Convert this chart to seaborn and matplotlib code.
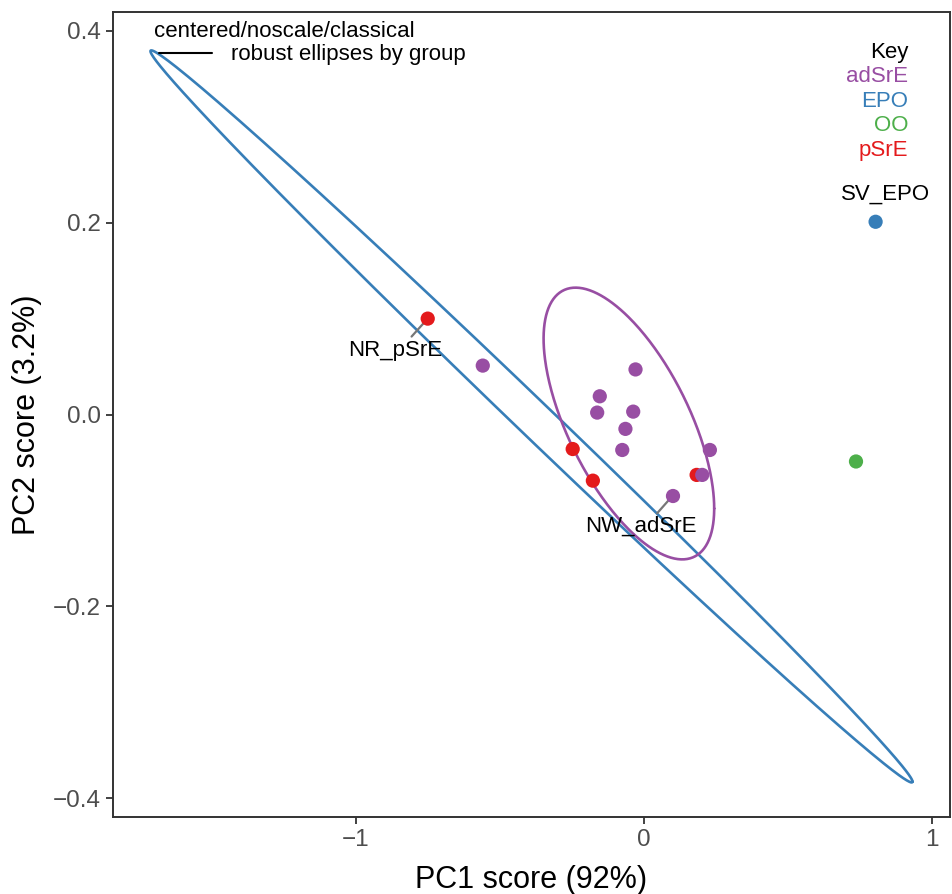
import numpy as np
import pandas as pd
import matplotlib
matplotlib.use("Agg")
import matplotlib.pyplot as plt
import seaborn as sns

# ---- data ----
groups = ["pSrE", "pSrE", "pSrE", "pSrE",
          "adSrE", "adSrE", "adSrE", "adSrE", "adSrE", "adSrE", "adSrE", "adSrE", "adSrE", "adSrE",
          "EPO", "OO"]
pc1 = [-0.750, -0.247, -0.177, 0.183,
       -0.559, -0.029, -0.153, -0.162, -0.037, -0.064, -0.075, 0.229, 0.2025, 0.101,
       0.804, 0.736]
pc2 = [0.100, -0.036, -0.069, -0.063,
       0.051, 0.047, 0.019, 0.002, 0.003, -0.015, -0.037, -0.037, -0.063, -0.085,
       0.201, -0.049]
sample_ids = ["NR_pSrE", "", "", "",
              "", "", "", "", "", "", "", "", "", "NW_adSrE",
              "SV_EPO", ""]

key_groups = ["adSrE", "EPO", "OO", "pSrE"]
key_colors = ["#984EA3", "#377EB8", "#4DAF4A", "#E41A1C"]

# robust ellipses (center, shape matrix) per group
ell_groups = ["EPO", "adSrE"]
ell_center_x = [-0.390, -0.052]
ell_center_y = [-0.002, -0.0094]
ell_sxx = [None, 0.0876]
ell_syy = [None, 0.02008]
ell_sxy = [None, -0.02622]
# EPO ellipse given by major half-axis vector and minor half-length
epo_major = (1.322, -0.381)
epo_minor = 0.0246

xlim = (-1.842, 1.0625)
ylim = (-0.4198, 0.4198)
xticks = [-1, 0, 1]
yticks = [-0.4, -0.2, 0.0, 0.2, 0.4]

# ---- style ----
sns.set_theme(style="ticks")
plt.rcParams["font.family"] = ["Liberation Sans", "DejaVu Sans"]

df = pd.DataFrame({"PC1": pc1, "PC2": pc2, "group": groups, "id": sample_ids})
palette = dict(zip(key_groups, key_colors))

fig = plt.figure(figsize=(9.52, 8.94), dpi=100)
ax = fig.add_axes([0.1187, 0.0861, 0.8793, 0.9005])

# ellipses
t = np.linspace(0, 2 * np.pi, 400)
for g, cx, cy, sxx, syy, sxy in zip(ell_groups, ell_center_x, ell_center_y, ell_sxx, ell_syy, ell_sxy):
    if g == "EPO":
        u = np.array(epo_major)
        a = np.linalg.norm(u)
        un = u / a
        vn = np.array([-un[1], un[0]])
        M = a**2 * np.outer(un, un) + epo_minor**2 * np.outer(vn, vn)
    else:
        M = np.array([[sxx, sxy], [sxy, syy]])
    L = np.linalg.cholesky(M)
    pts = L @ np.vstack([np.cos(t), np.sin(t)])
    ax.plot(cx + pts[0], cy + pts[1], color=palette[g], lw=1.9, zorder=2)

sns.scatterplot(data=df, x="PC1", y="PC2", hue="group", palette=palette,
                s=105, linewidth=0, legend=False, ax=ax, zorder=3)

# point labels with leader segments
lab_fs = 16
ax.plot([-0.753, -0.806], [0.099, 0.0813], color="#777777", lw=1.6, zorder=2.5)
ax.text(-0.864, 0.067, "NR_pSrE", ha="center", va="center", fontsize=lab_fs, color="black")
ax.plot([0.093, 0.046], [-0.087, -0.103], color="#777777", lw=1.6, zorder=2.5)
ax.text(-0.011, -0.116, "NW_adSrE", ha="center", va="center", fontsize=lab_fs, color="black")
ax.text(0.84, 0.230, "SV_EPO", ha="center", va="center", fontsize=lab_fs, color="black")

# header annotation
ax.text(-1.701, 0.399, "centered/noscale/classical", ha="left", va="center",
        fontsize=lab_fs, color="black")
ax.text(-1.434, 0.375, "robust ellipses by group", ha="left", va="center",
        fontsize=lab_fs, color="black")
ax.plot([-1.684, -1.50], [0.377, 0.377], color="black", lw=1.5, zorder=4)

# key
ax.text(0.950, 0.950, "Key", transform=ax.transAxes, ha="right", va="center",
        fontsize=lab_fs, color="black")
for i, (g, c) in enumerate(zip(key_groups, key_colors)):
    ax.text(0.950, 0.950 - 0.0305 * (i + 1), g, transform=ax.transAxes,
            ha="right", va="center", fontsize=lab_fs, color=c)

ax.set_xlim(*xlim)
ax.set_ylim(*ylim)
ax.set_xticks(xticks)
ax.set_xticklabels(["\u22121", "0", "1"])
ax.set_yticks(yticks)
ax.set_yticklabels(["\u22120.4", "\u22120.2", "0.0", "0.2", "0.4"])
ax.tick_params(axis="both", labelsize=17.5, labelcolor="#4D4D4D", color="#333333",
               length=5, width=1.3, direction="out")
for sp in ax.spines.values():
    sp.set_visible(True)
    sp.set_color("#333333")
    sp.set_linewidth(1.4)
ax.set_xlabel("PC1 score (92%)", fontsize=22, color="black", labelpad=10)
ax.set_ylabel("PC2 score (3.2%)", fontsize=22, color="black", labelpad=8)

fig.savefig("out.png", dpi=100)
